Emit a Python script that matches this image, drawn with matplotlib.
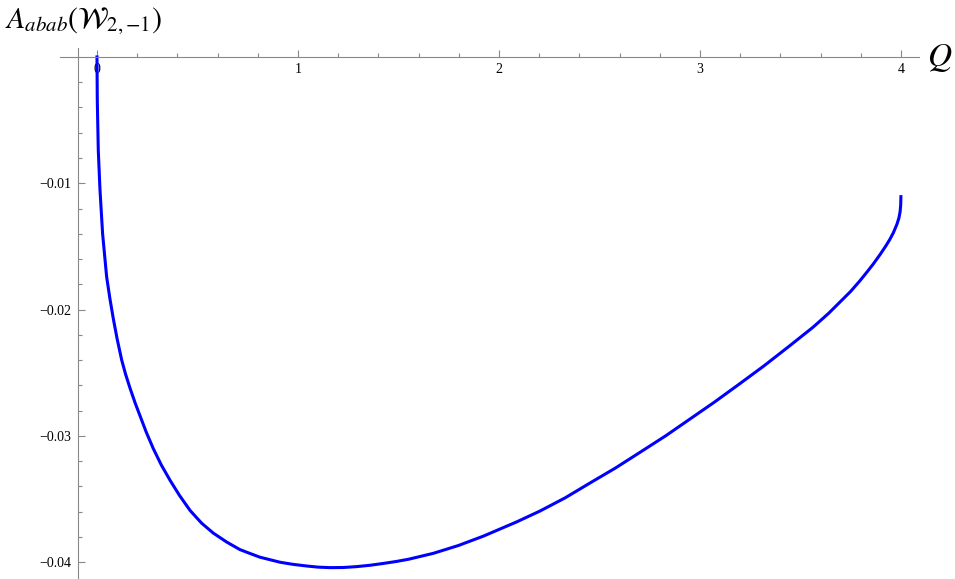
import matplotlib
matplotlib.use("Agg")
import matplotlib.pyplot as plt
from matplotlib.ticker import FixedLocator

plt.rcParams['font.family'] = ['Liberation Serif', 'DejaVu Serif']
plt.rcParams['mathtext.fontset'] = 'stix'

# curve
q_vals = [0.000, 0.0015, 0.0065, 0.0149, 0.028, 0.048, 0.064, 0.081, 0.100, 0.123,
          0.142, 0.164, 0.190, 0.214, 0.245, 0.280, 0.320, 0.363, 0.410, 0.463,
          0.520, 0.579, 0.645, 0.711, 0.760, 0.810, 0.860, 0.910, 0.975, 1.043,
          1.100, 1.159, 1.225, 1.292, 1.360, 1.424, 1.490, 1.549, 1.673, 1.798,
          1.922, 2.088, 2.204, 2.330, 2.453, 2.580, 2.701, 2.830, 2.950, 3.070,
          3.199, 3.320, 3.448, 3.564, 3.640, 3.697, 3.750, 3.796, 3.830, 3.862,
          3.896, 3.925, 3.945, 3.962, 3.980, 3.990, 3.996, 3.999, 4.000]
a_vals = [0.0, -0.0034, -0.0074, -0.0105, -0.0140, -0.0174, -0.0191, -0.0207, -0.0223, -0.0240,
          -0.0251, -0.0262, -0.0274, -0.0284, -0.0297, -0.0310, -0.0323, -0.0335, -0.0347, -0.0359,
          -0.0369, -0.0377, -0.0384, -0.0390, -0.0393, -0.0396, -0.0398, -0.0400, -0.04017, -0.0403,
          -0.04039, -0.04043, -0.04042, -0.04035, -0.04024, -0.0401, -0.03994, -0.03977, -0.0393, -0.03868,
          -0.03794, -0.03681, -0.03595, -0.0349, -0.03373, -0.03254, -0.03131, -0.02999, -0.02867, -0.02735,
          -0.02586, -0.02444, -0.02285, -0.02138, -0.0203, -0.0194, -0.01856, -0.01772, -0.01705, -0.0164,
          -0.01565, -0.01496, -0.01444, -0.01393, -0.01325, -0.01275, -0.01225, -0.0117, -0.01106]

x_major = [0, 1, 2, 3, 4]
x_labels = ['0', '1', '2', '3', '4']
y_major = [-0.01, -0.02, -0.03, -0.04]
y_labels = ['\u22120.01', '\u22120.02', '\u22120.03', '\u22120.04']

fig = plt.figure(figsize=(9.55, 5.79), dpi=100)
ax = fig.add_axes([60 / 955, 0, 859 / 955, 531 / 579])

ax.plot(q_vals, a_vals, color='#0000ff', lw=2.2, solid_joinstyle='round')

ax.set_xlim(-0.184, 4.09)
ax.set_ylim(-0.04133, 0.00071)

for s in ['top', 'right']:
    ax.spines[s].set_visible(False)
ax.spines['left'].set_position(('data', -0.095))
ax.spines['bottom'].set_position(('data', 0))
for s in ['left', 'bottom']:
    ax.spines[s].set_color('#888888')
    ax.spines[s].set_linewidth(0.8)

ax.xaxis.set_major_locator(FixedLocator(x_major))
ax.set_xticklabels(x_labels)
ax.xaxis.set_minor_locator(FixedLocator([i * 0.2 for i in range(1, 20) if i % 5]))
ax.yaxis.set_major_locator(FixedLocator(y_major))
ax.set_yticklabels(y_labels)
ax.yaxis.set_minor_locator(FixedLocator([-i * 0.002 for i in range(1, 21) if i % 5]))

ax.tick_params(which='both', direction='in', color='#888888', width=0.8,
               labelsize=10, labelcolor='black')
ax.tick_params(which='major', length=5)
ax.tick_params(which='minor', length=3)
ax.tick_params(axis='x', pad=4)
ax.tick_params(axis='y', pad=5)

fig.text(5 / 955, 1 - 21 / 579, r'$A_{abab}(\mathcal{W}_{2,{-}1})$', fontsize=21.5,
         ha='left', va='center')
fig.text(927 / 955, 1 - 58 / 579, r'$Q$', fontsize=24, ha='left', va='center')

fig.savefig('out.png', dpi=100)
